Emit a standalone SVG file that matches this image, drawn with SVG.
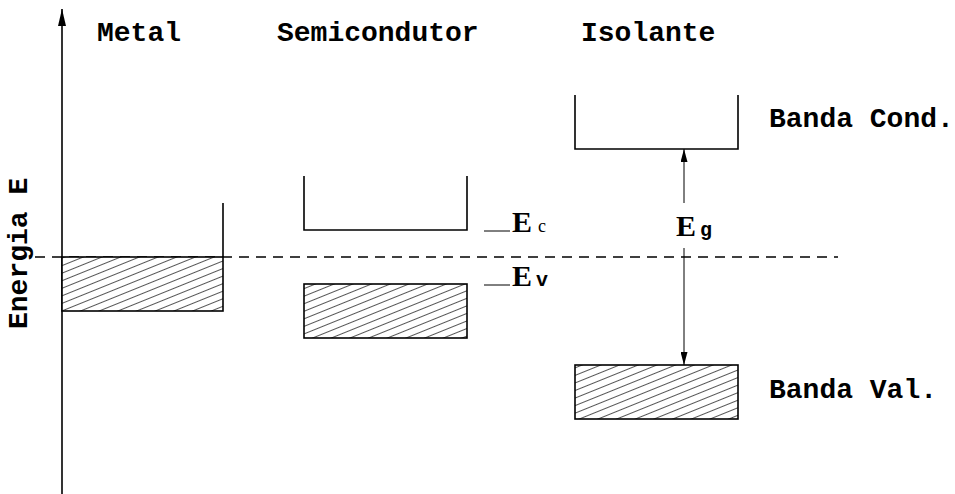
<svg xmlns="http://www.w3.org/2000/svg" width="955" height="494" viewBox="0 0 955 494">
<style>
.t{font-family:"Liberation Mono","Courier New",monospace;font-weight:bold;font-size:28px;fill:#000}
.e{font-family:"Liberation Serif","Times New Roman",serif;font-weight:bold;font-size:30px;fill:#000}
.ln{fill:none;stroke:#000;stroke-width:1.6}
.band{fill:url(#hatch);stroke:#000;stroke-width:1.6}
.thin{fill:none;stroke:#000;stroke-width:1}
</style>
<defs>
<pattern id="hatch" patternUnits="userSpaceOnUse" width="12" height="7" patternTransform="rotate(-22)">
<rect width="12" height="7" fill="#fff"/>
<line x1="0" y1="3.5" x2="12" y2="3.5" stroke="#555" stroke-width="1"/>
</pattern>
<marker id="ah" viewBox="0 0 10 10" refX="10" refY="5" markerWidth="17" markerHeight="8" markerUnits="userSpaceOnUse" orient="auto" preserveAspectRatio="none">
<path d="M0,0 L10,5 L0,10 Z" fill="#000"/>
</marker>
<marker id="ah2" viewBox="0 0 10 10" refX="10" refY="5" markerWidth="13" markerHeight="7" markerUnits="userSpaceOnUse" orient="auto" preserveAspectRatio="none">
<path d="M0,0 L10,5 L0,10 Z" fill="#000"/>
</marker>
</defs>
<rect width="955" height="494" fill="#fff"/>

<g id="connectors">
<line x1="62" y1="494" x2="62" y2="9" class="ln" marker-end="url(#ah)"/>
<line x1="35" y1="257" x2="838" y2="257" stroke="#000" stroke-width="1.3" stroke-dasharray="10,7"/>
<line x1="684" y1="203" x2="684" y2="149" class="thin" marker-end="url(#ah2)"/>
<line x1="684" y1="248" x2="684" y2="365" class="thin" marker-end="url(#ah2)"/>
<line x1="484" y1="231" x2="510" y2="231" class="thin"/>
<line x1="484" y1="285" x2="510" y2="285" class="thin"/>
</g>

<g id="axis-label">
<text class="t" transform="translate(27,329) rotate(-90)">Energia E</text>
</g>

<g id="metal">
<text class="t" x="97" y="41">Metal</text>
<rect class="band" x="62" y="257" width="161" height="54"/>
<line class="ln" x1="223" y1="203" x2="223" y2="257"/>
</g>

<g id="semicondutor">
<text class="t" x="277" y="41">Semicondutor</text>
<path class="ln" d="M304,176 V230 H467 V176"/>
<rect class="band" x="304" y="284" width="163" height="54"/>
<text x="512" y="232"><tspan class="e">E</tspan><tspan font-family="Liberation Serif, serif" font-size="18" dx="6">c</tspan></text>
<text x="512" y="286"><tspan class="e">E</tspan><tspan font-family="Liberation Mono, monospace" font-weight="bold" font-size="20" dx="4">v</tspan></text>
</g>

<g id="isolante">
<text class="t" x="581" y="41">Isolante</text>
<path class="ln" d="M575,95 V149 H738 V95"/>
<rect class="band" x="575" y="365" width="163" height="54"/>
<text x="676" y="236"><tspan class="e">E</tspan><tspan font-family="Liberation Mono, monospace" font-weight="bold" font-size="20" dx="4">g</tspan></text>
<text class="t" x="769" y="127">Banda Cond.</text>
<text class="t" x="769" y="398">Banda Val.</text>
</g>
</svg>
